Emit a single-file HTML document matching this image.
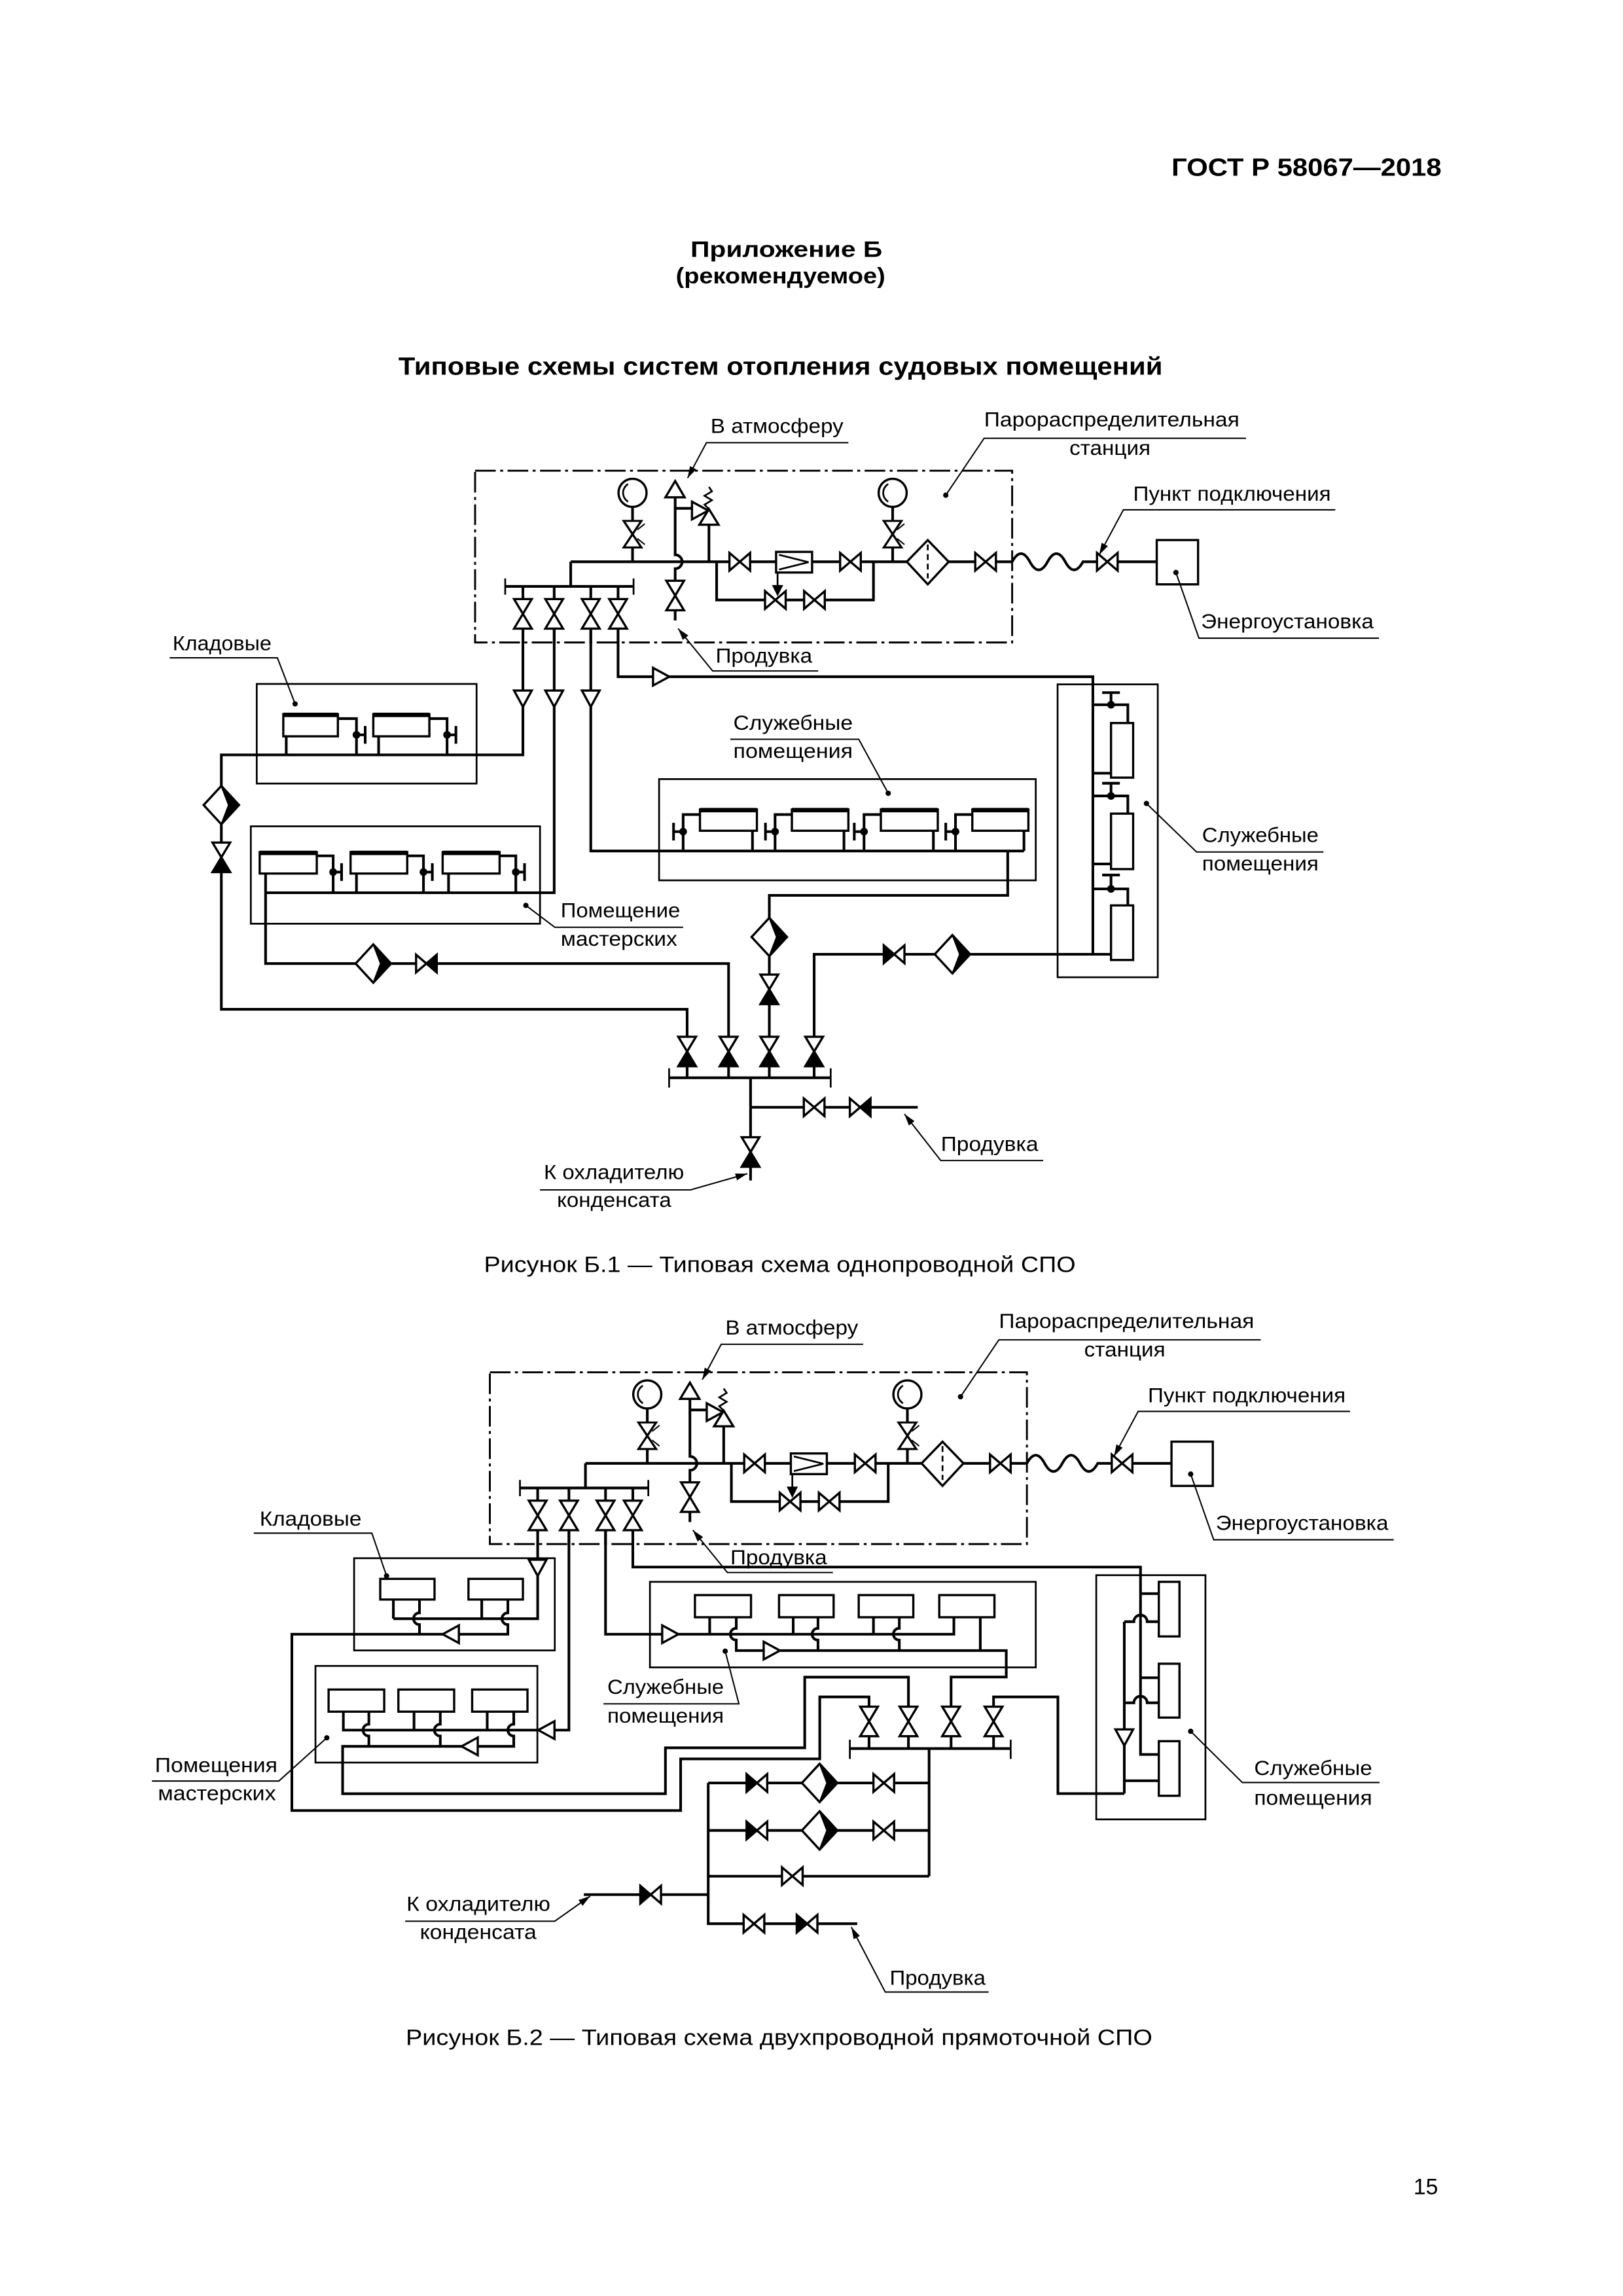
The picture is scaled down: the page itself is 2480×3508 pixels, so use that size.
<!DOCTYPE html>
<html><head><meta charset="utf-8">
<style>
html,body{margin:0;padding:0;background:#fff;}
svg{display:block;}
text{font-family:"Liberation Sans",Arial,sans-serif;fill:#000;}
.p{stroke:#000;stroke-width:1.8;fill:none;}
.t{stroke:#000;stroke-width:1.2;fill:none;}
.l{stroke:#000;stroke-width:0.9;fill:none;}
.w{fill:#fff;stroke:#000;stroke-width:1.5;}
.b{fill:#000;stroke:#000;stroke-width:1;}
.lb{font-size:14px;}
</style></head>
<body>
<svg width="2480" height="3508" viewBox="0 0 1100 1556" xmlns="http://www.w3.org/2000/svg">
<defs>
<marker id="a" viewBox="0 0 10 6" refX="10" refY="3" markerWidth="8" markerHeight="5" markerUnits="userSpaceOnUse" orient="auto"><path d="M0,0 L10,3 L0,6z"/></marker>
<polygon id="vh" points="-7,-6 7,6 7,-6 -7,6" class="w"/>
<g id="vhL"><polygon points="-7,-6 7,6 7,-6 -7,6" class="w"/><polygon points="-7,-6 0,0 -7,6" class="b"/></g>
<g id="vhR"><polygon points="-7,-6 7,6 7,-6 -7,6" class="w"/><polygon points="7,-6 0,0 7,6" class="b"/></g>
<polygon id="vv" points="-6,-10 6,-10 -6,10 6,10" class="w"/>
<g id="vvB"><polygon points="-6,-10 6,-10 -6,10 6,10" class="w"/><polygon points="-6,10 0,0 6,10" class="b"/></g>
<polygon id="tr" points="-5,-6 6,0 -5,6" class="w"/>
<g id="dm"><polygon points="0,-13 12,0 0,13 -12,0" class="w"/><polygon points="0,-13 12,0 0,13 5,0" class="b"/></g>
<g id="gauge"><circle cx="0" cy="0" r="9.5" class="w"/><path d="M-3,-6 A7,7 0 0 0 -3,6" class="t"/></g>

<g id="station">
 <rect x="322" y="319" width="364" height="116.4" fill="none" stroke="#000" stroke-width="1.3" stroke-dasharray="14 3 2 3"/>
 <path class="p" d="M386.8,380.7 H686"/>
 <path class="p" d="M686,380.7 q6,-11 12,0 t12,0 t12,0 t12,0 H784"/>
 <rect x="784" y="366" width="28" height="30" class="w" stroke-width="1.8"/>
 <path class="p" d="M485.7,380.7 V406.6 H592 V380.7"/>
 <use href="#vh" transform="translate(501.4,380.7)"/>
 <use href="#vh" transform="translate(576.4,380.7)"/>
 <use href="#vh" transform="translate(668,380.7)"/>
 <use href="#vh" transform="translate(750.5,380.7)"/>
 <use href="#vh" transform="translate(525.5,406.6)"/>
 <use href="#vh" transform="translate(552,406.6)"/>
 <rect x="526" y="374" width="24.4" height="14" class="w"/>
 <polyline points="528,376 548,381 528,386" class="t"/>
 <path class="t" d="M527,388 V400"/><polygon points="524,397 530,397 527,403" class="b"/>
 <polygon points="628.8,366 643,380.7 628.8,396 614.6,380.7" class="w"/>
 <path d="M628.8,369 V392" stroke="#000" stroke-width="1.2" stroke-dasharray="4 2.5"/>
 <path class="p" d="M428.7,344 V380.7"/>
 <use href="#gauge" transform="translate(428.7,334)"/>
 <use href="#vv" transform="translate(428.7,362) scale(1,0.9)"/>
 <path class="l" d="M432,359 l5,-4 M432,365 l5,4"/>
 <path class="p" d="M605,344 V380.7"/>
 <use href="#gauge" transform="translate(605,334)"/>
 <use href="#vv" transform="translate(605,362) scale(1,0.9)"/>
 <path class="l" d="M608,359 l5,-4 M608,365 l5,4"/>
 <path class="p" d="M457.6,337 V376 a4.7,4.7 0 0 1 0,9.4 V420.5"/>
 <polygon points="451,337 464,337 457.6,326" class="w"/>
 <path class="p" d="M457.6,344.5 H469"/>
 <polygon points="469,340 480,346 469,352" class="w"/>
 <polygon points="474,355.6 487,355.6 480.5,345" class="w"/>
 <path class="p" d="M480.5,355.6 V380.7"/>
 <path class="t" d="M480.5,345 l-3,-3 l5,-3 l-5,-3 l5,-3 l-2,-3"/>
 <use href="#vv" transform="translate(457.6,403.6)"/>
 <path class="p" d="M386.8,380.7 V397.4 M342.4,397.4 H429.4"/>
 <path class="t" d="M342.4,392 V403 M429.4,392 V403"/>
 <path class="p" d="M354.4,397.4 V436 M375.6,397.4 V436 M400.4,397.4 V436 M418.9,397.4 V436"/>
 <use href="#vv" transform="translate(354.4,416)"/>
 <use href="#vv" transform="translate(375.6,416)"/>
 <use href="#vv" transform="translate(400.4,416)"/>
 <use href="#vv" transform="translate(418.9,416)"/>
 <text class="lb" x="481.6" y="293.5" textLength="90" lengthAdjust="spacingAndGlyphs">В атмосферу</text>
 <path class="l" d="M575,300 H478.8 L466,324" marker-end="url(#a)"/>
 <text class="lb" x="667" y="289" textLength="173" lengthAdjust="spacingAndGlyphs">Парораспределительная</text>
 <text class="lb" x="724.8" y="308.3" textLength="55" lengthAdjust="spacingAndGlyphs">станция</text>
 <path class="l" d="M844.5,297 H667 L641,335.6"/><circle cx="641" cy="335.6" r="1.8"/>
 <text class="lb" x="768" y="339.3" textLength="134" lengthAdjust="spacingAndGlyphs">Пункт подключения</text>
 <path class="l" d="M905,345.5 H761.4 L745,376" marker-end="url(#a)"/>
 <text class="lb" x="814" y="425.8" textLength="117" lengthAdjust="spacingAndGlyphs">Энергоустановка</text>
 <path class="l" d="M934.6,432.5 H812.6 L797,388"/><circle cx="797" cy="388" r="1.8"/>
 <text class="lb" x="485" y="449" textLength="65.5" lengthAdjust="spacingAndGlyphs">Продувка</text>
 <path class="l" d="M554.5,454.7 H483 L459.6,426" marker-end="url(#a)"/>
</g>
</defs>

<!-- Header -->
<text x="794" y="119" font-size="17" font-weight="bold" textLength="183" lengthAdjust="spacingAndGlyphs">ГОСТ Р 58067—2018</text>
<text x="468" y="174" font-size="15" font-weight="bold" textLength="130" lengthAdjust="spacingAndGlyphs">Приложение Б</text>
<text x="458" y="192" font-size="15" font-weight="bold" textLength="142" lengthAdjust="spacingAndGlyphs">(рекомендуемое)</text>
<text x="270" y="254" font-size="17" font-weight="bold" textLength="518" lengthAdjust="spacingAndGlyphs">Типовые схемы систем отопления судовых помещений</text>

<!-- ============ Diagram 1 ============ -->
<use href="#station"/>
<path class="p" d="M354.4,426 V511.6 H150 V684 H465.7 V730"/>
<path class="p" d="M375.6,426 V605 H180"/>
<path class="p" d="M180,592 V653 H493.8 V730"/>
<path class="p" d="M400.4,426 V576.7 H694"/>
<path class="p" d="M418.9,426 V458.6 H740.7 V646.7 H753"/>
<path class="p" d="M740.7,646.7 H551.8 V730"/>
<path class="p" d="M683,576.7 V606.8 H521.4 V730"/>
<use href="#tr" transform="translate(354.4,473) rotate(90)"/>
<use href="#tr" transform="translate(375.6,473) rotate(90)"/>
<use href="#tr" transform="translate(400.4,473) rotate(90)"/>
<use href="#tr" transform="translate(447.6,458.6)"/>

<!-- Kladovye d1 -->
<rect x="174" y="463.5" width="149" height="67.5" class="t"/>
<g>
 <rect x="192" y="484" width="37" height="15" class="w" stroke-width="1.8"/><path d="M192,484.5 H229" stroke="#000" stroke-width="3"/>
 <path class="p" d="M229,487 H241.6 V511.6 M194,499 V511.6 M241.6,498 H247.5"/><circle cx="241.6" cy="498" r="2.6"/><path class="p" d="M247.5,492 V504"/>
 <rect x="253" y="484" width="38" height="15" class="w" stroke-width="1.8"/><path d="M253,484.5 H291" stroke="#000" stroke-width="3"/>
 <path class="p" d="M291,487 H303 V511.6 M256.6,499 V511.6 M303,498 H309"/><circle cx="303" cy="498" r="2.6"/><path class="p" d="M309,492 V504"/>
</g>
<use href="#dm" transform="translate(150,545.6)"/>
<use href="#vvB" transform="translate(150,581)"/>

<!-- Workshops d1 -->
<rect x="170" y="560" width="196" height="66" class="t"/>
<g>
 <rect x="176" y="577.5" width="38.7" height="14.5" class="w" stroke-width="1.8"/><path d="M176,578 H214.7" stroke="#000" stroke-width="3"/>
 <path class="p" d="M214.7,580 H225.8 V605 M225.8,591 H231.5"/><circle cx="225.8" cy="591" r="2.6"/><path class="p" d="M231.5,585 V597"/>
 <rect x="237.6" y="577.5" width="38.4" height="14.5" class="w" stroke-width="1.8"/><path d="M237.6,578 H276" stroke="#000" stroke-width="3"/>
 <path class="p" d="M276,580 H287 V605 M241.6,592 V605 M287,591 H293"/><circle cx="287" cy="591" r="2.6"/><path class="p" d="M293,585 V597"/>
 <rect x="300" y="577.5" width="38.6" height="14.5" class="w" stroke-width="1.8"/><path d="M300,578 H338.6" stroke="#000" stroke-width="3"/>
 <path class="p" d="M338.6,580 H349.6 V605 M304,592 V605 M349.6,591 H355.5"/><circle cx="349.6" cy="591" r="2.6"/><path class="p" d="M355.5,585 V597"/>
</g>
<use href="#dm" transform="translate(253,653)"/>
<use href="#vhR" transform="translate(289,653)"/>

<!-- Service d1 -->
<rect x="446.7" y="528" width="255.3" height="68.6" class="t"/>
<g>
 <rect x="474.4" y="548.6" width="38.6" height="14.4" class="w" stroke-width="1.8"/><path d="M474.4,549 H513" stroke="#000" stroke-width="3"/>
 <path class="p" d="M474.4,552 H463 V576.7 M510,563 V576.7 M463,563.6 H456.5"/><circle cx="463" cy="563.6" r="2.6"/><path class="p" d="M456.5,557.6 V569.6"/>
 <rect x="536.7" y="548.6" width="38.3" height="14.4" class="w" stroke-width="1.8"/><path d="M536.7,549 H575" stroke="#000" stroke-width="3"/>
 <path class="p" d="M536.7,552 H525.3 V576.7 M572,563 V576.7 M525.3,563.6 H518.8"/><circle cx="525.3" cy="563.6" r="2.6"/><path class="p" d="M518.8,557.6 V569.6"/>
 <rect x="597" y="548.6" width="38.6" height="14.4" class="w" stroke-width="1.8"/><path d="M597,549 H635.6" stroke="#000" stroke-width="3"/>
 <path class="p" d="M597,552 H585.6 V576.7 M632.6,563 V576.7 M585.6,563.6 H579"/><circle cx="585.6" cy="563.6" r="2.6"/><path class="p" d="M579,557.6 V569.6"/>
 <rect x="659" y="548.6" width="38" height="14.4" class="w" stroke-width="1.8"/><path d="M659,549 H697" stroke="#000" stroke-width="3"/>
 <path class="p" d="M659,552 H647.6 V576.7 M694,563 V576.7 M647.6,563.6 H641"/><circle cx="647.6" cy="563.6" r="2.6"/><path class="p" d="M641,557.6 V569.6"/>
</g>
<use href="#dm" transform="translate(521.4,635)"/>
<use href="#vvB" transform="translate(521.4,670.5)"/>

<!-- Right box d1 -->
<rect x="716.8" y="463.8" width="67.9" height="198.5" class="t"/>
<g>
 <rect x="753" y="490" width="15" height="37" class="w" stroke-width="1.8"/>
 <path class="p" d="M740.7,477.6 H764.4 V490 M753,477.6 V469.4 M747,469.4 H759 M740.7,524 H753"/><circle cx="753" cy="477.6" r="2.6"/>
 <rect x="753" y="551.4" width="15" height="37.6" class="w" stroke-width="1.8"/>
 <path class="p" d="M740.7,539.4 H764.4 V551.4 M753,539.4 V530.8 M747,530.8 H759 M740.7,585.5 H753"/><circle cx="753" cy="539.4" r="2.6"/>
 <rect x="753" y="613.6" width="15" height="37" class="w" stroke-width="1.8"/>
 <path class="p" d="M740.7,602.4 H764.4 V613.6 M753,602.4 V593 M747,593 H759"/><circle cx="753" cy="602.4" r="2.6"/>
</g>
<use href="#vhL" transform="translate(606,646.7)"/>
<use href="#dm" transform="translate(645.5,646.7)"/>

<!-- Bottom d1 -->
<path class="p" d="M453.5,730.4 H563"/>
<path class="t" d="M453.5,724 V737 M563,724 V737"/>
<use href="#vvB" transform="translate(465.7,712.6)"/>
<use href="#vvB" transform="translate(493.8,712.6)"/>
<use href="#vvB" transform="translate(521.4,712.6)"/>
<use href="#vvB" transform="translate(551.8,712.6)"/>
<path class="p" d="M508.7,730.4 V800 M508.7,750.4 H622"/>
<use href="#vh" transform="translate(551.8,750.4)"/>
<use href="#vhR" transform="translate(583,750.4)"/>
<use href="#vvB" transform="translate(508.7,780.7)"/>

<!-- Labels d1 -->
<text class="lb" x="117" y="440.6" textLength="67" lengthAdjust="spacingAndGlyphs">Кладовые</text>
<path class="l" d="M115,445.8 H188 L200,477"/><circle cx="200" cy="477" r="1.8"/>
<text class="lb" x="497" y="494.6" textLength="81" lengthAdjust="spacingAndGlyphs">Служебные</text>
<text class="lb" x="497" y="513.7" textLength="81" lengthAdjust="spacingAndGlyphs">помещения</text>
<path class="l" d="M495,501 H582 L602,537.6"/><circle cx="602" cy="537.6" r="1.8"/>
<text class="lb" x="380" y="621.7" textLength="81" lengthAdjust="spacingAndGlyphs">Помещение</text>
<text class="lb" x="380" y="641" textLength="79" lengthAdjust="spacingAndGlyphs">мастерских</text>
<path class="l" d="M463,628.4 H376 L356.4,613.6"/><circle cx="356.4" cy="613.6" r="1.8"/>
<text class="lb" x="814.7" y="570.7" textLength="79" lengthAdjust="spacingAndGlyphs">Служебные</text>
<text class="lb" x="814.7" y="590" textLength="79" lengthAdjust="spacingAndGlyphs">помещения</text>
<path class="l" d="M897,577.4 H811 L777,544.5"/><circle cx="777" cy="544.5" r="1.8"/>
<text class="lb" x="368.6" y="799" textLength="95" lengthAdjust="spacingAndGlyphs">К охладителю</text>
<text class="lb" x="377.5" y="818" textLength="77.5" lengthAdjust="spacingAndGlyphs">конденсата</text>
<path class="l" d="M366,806.4 H468 L506.5,795.4" marker-end="url(#a)"/>
<text class="lb" x="637.7" y="780" textLength="66" lengthAdjust="spacingAndGlyphs">Продувка</text>
<path class="l" d="M707,786.5 H637.6 L613,755" marker-end="url(#a)"/>

<text x="328" y="862" font-size="15" textLength="401" lengthAdjust="spacingAndGlyphs">Рисунок Б.1 — Типовая схема однопроводной СПО</text>

<!-- ============ Diagram 2 ============ -->
<use href="#station" transform="translate(10,611)"/>
<path class="p" d="M364.4,1037 V1097 H266.6"/>
<path class="p" d="M385.6,1037 V1172.5 H232.7 V1160"/>
<path class="p" d="M410.4,1037 V1107.5 H646.5 V1096"/>
<path class="p" d="M428.9,1037 V1062 H773 V1189 H785.4"/>
<use href="#tr" transform="translate(364.4,1062) rotate(90)"/>
<use href="#tr" transform="translate(370.8,1172.5) rotate(180)"/>
<use href="#tr" transform="translate(453.8,1107.5)"/>

<!-- Kladovye d2 -->
<rect x="240" y="1056" width="136" height="62.5" class="t"/>
<rect x="257.7" y="1070" width="36.8" height="14" class="w" stroke-width="1.8"/>
<rect x="317.5" y="1070" width="36.9" height="14" class="w" stroke-width="1.8"/>
<path class="p" d="M266.6,1084 V1097 M326.5,1084 V1097"/>
<path class="p" d="M284.3,1084 V1093 a4,4 0 0 0 0,8 V1107.5"/>
<path class="p" d="M344.2,1084 V1093 a4,4 0 0 0 0,8 V1107.5 H197.8 V1227 H461.3 V1192 H555.6 V1150 H589 V1157"/>
<use href="#tr" transform="translate(306,1107.5) rotate(180)"/>

<!-- Workshops d2 -->
<rect x="213.8" y="1129" width="150.4" height="65.5" class="t"/>
<rect x="222.7" y="1145" width="37.7" height="15" class="w" stroke-width="1.8"/>
<rect x="270" y="1145" width="37.8" height="15" class="w" stroke-width="1.8"/>
<rect x="320" y="1145" width="37.5" height="15" class="w" stroke-width="1.8"/>
<path class="p" d="M280.6,1160 V1172.5 M330.2,1160 V1172.5"/>
<path class="p" d="M250,1160 V1168.5 a4,4 0 0 0 0,8 V1183.5 M298.4,1160 V1168.5 a4,4 0 0 0 0,8 V1183.5"/>
<path class="p" d="M348.2,1160 V1168.5 a4,4 0 0 0 0,8 V1183.5 H232.2 V1215.6 H451 V1184.5 H545.4 V1136.6 H615.7 V1157"/>
<use href="#tr" transform="translate(318.8,1183.5) rotate(180)"/>

<!-- Service d2 -->
<rect x="440.5" y="1072" width="261.5" height="58" class="t"/>
<rect x="471" y="1081" width="38" height="15" class="w" stroke-width="1.8"/>
<rect x="528" y="1081" width="37" height="15" class="w" stroke-width="1.8"/>
<rect x="582" y="1081" width="37" height="15" class="w" stroke-width="1.8"/>
<rect x="636.6" y="1081" width="37.4" height="15" class="w" stroke-width="1.8"/>
<path class="p" d="M481,1096 V1107.5 M537.6,1096 V1107.5 M592,1096 V1107.5 M664.4,1096 V1118.6"/>
<path class="p" d="M554.4,1096 V1103.5 a4,4 0 0 0 0,8 V1118.6 M609.5,1096 V1103.5 a4,4 0 0 0 0,8 V1118.6"/>
<path class="p" d="M499,1096 V1103.5 a4,4 0 0 0 0,8 V1118.6 H682 V1136.5 H644.6 V1157"/>
<use href="#tr" transform="translate(522.6,1118.6)"/>
<path class="p" d="M673.4,1157 V1150 H717 V1215.5 H762"/>

<!-- Right box d2 -->
<rect x="743" y="1067.5" width="74" height="165.5" class="t"/>
<rect x="785.4" y="1072" width="14" height="37" class="w" stroke-width="1.8"/>
<rect x="785.4" y="1127.5" width="14" height="36.5" class="w" stroke-width="1.8"/>
<rect x="785.4" y="1180" width="14" height="37" class="w" stroke-width="1.8"/>
<path class="p" d="M773,1080 H785.4 M773,1137 H785.4"/>
<path class="p" d="M762,1099 H768.5 a4.5,4.5 0 0 1 9,0 H785.4 M762,1154 H768.5 a4.5,4.5 0 0 1 9,0 H785.4 M762,1206.8 H785.4 M762,1099 V1215.5"/>
<use href="#tr" transform="translate(762,1177) rotate(90)"/>

<!-- Bottom d2 -->
<path class="p" d="M576,1185 H685"/>
<path class="t" d="M576,1179 V1192 M685,1179 V1192"/>
<path class="p" d="M589,1157 V1185 M615.7,1157 V1185 M644.6,1157 V1185 M673.4,1157 V1185"/>
<use href="#vv" transform="translate(589,1166.6)"/>
<use href="#vv" transform="translate(615.7,1166.6)"/>
<use href="#vv" transform="translate(644.6,1166.6)"/>
<use href="#vv" transform="translate(673.4,1166.6)"/>
<path class="p" d="M629.7,1185 V1271.5 M480,1208.3 H629.7 M480,1240.5 H629.7 M480,1271.5 H629.7 M480,1208.3 V1303.7 H581 M395.7,1284 H480"/>
<use href="#vhL" transform="translate(513,1208.3)"/>
<use href="#dm" transform="translate(555.5,1208.3)"/>
<use href="#vh" transform="translate(599,1208.3)"/>
<use href="#vhL" transform="translate(513,1240.5)"/>
<use href="#dm" transform="translate(555.5,1240.5)"/>
<use href="#vh" transform="translate(599,1240.5)"/>
<use href="#vh" transform="translate(537,1271.5)"/>
<use href="#vhL" transform="translate(441,1284)"/>
<use href="#vh" transform="translate(511,1303.7)"/>
<use href="#vhL" transform="translate(547,1303.7)"/>

<!-- Labels d2 -->
<text class="lb" x="176" y="1034" textLength="69" lengthAdjust="spacingAndGlyphs">Кладовые</text>
<path class="l" d="M172,1039 H252 L262,1068"/><circle cx="262" cy="1068" r="1.8"/>
<text class="lb" x="411.6" y="1148" textLength="79" lengthAdjust="spacingAndGlyphs">Служебные</text>
<text class="lb" x="411.6" y="1167.5" textLength="79" lengthAdjust="spacingAndGlyphs">помещения</text>
<path class="l" d="M409,1154.7 H500.8 L491.5,1119"/><circle cx="491.5" cy="1119" r="1.8"/>
<text class="lb" x="105" y="1201" textLength="83" lengthAdjust="spacingAndGlyphs">Помещения</text>
<text class="lb" x="107" y="1220" textLength="80" lengthAdjust="spacingAndGlyphs">мастерских</text>
<path class="l" d="M103,1207 H189 L221.5,1177.7"/><circle cx="221.5" cy="1177.7" r="1.8"/>
<text class="lb" x="850" y="1203" textLength="80" lengthAdjust="spacingAndGlyphs">Служебные</text>
<text class="lb" x="850" y="1223" textLength="80" lengthAdjust="spacingAndGlyphs">помещения</text>
<path class="l" d="M935,1208 H842 L807,1173.3"/><circle cx="807" cy="1173.3" r="1.8"/>
<text class="lb" x="275.5" y="1295" textLength="97.5" lengthAdjust="spacingAndGlyphs">К охладителю</text>
<text class="lb" x="284.6" y="1314" textLength="79" lengthAdjust="spacingAndGlyphs">конденсата</text>
<path class="l" d="M274.6,1302 H376 L400,1285" marker-end="url(#a)"/>
<text class="lb" x="603" y="1345" textLength="65" lengthAdjust="spacingAndGlyphs">Продувка</text>
<path class="l" d="M670,1350 H600 L577,1306" marker-end="url(#a)"/>

<text x="275" y="1386" font-size="15" textLength="506" lengthAdjust="spacingAndGlyphs">Рисунок Б.2 — Типовая схема двухпроводной прямоточной СПО</text>

<text x="958" y="1487" font-size="15">15</text>
</svg>
</body></html>
